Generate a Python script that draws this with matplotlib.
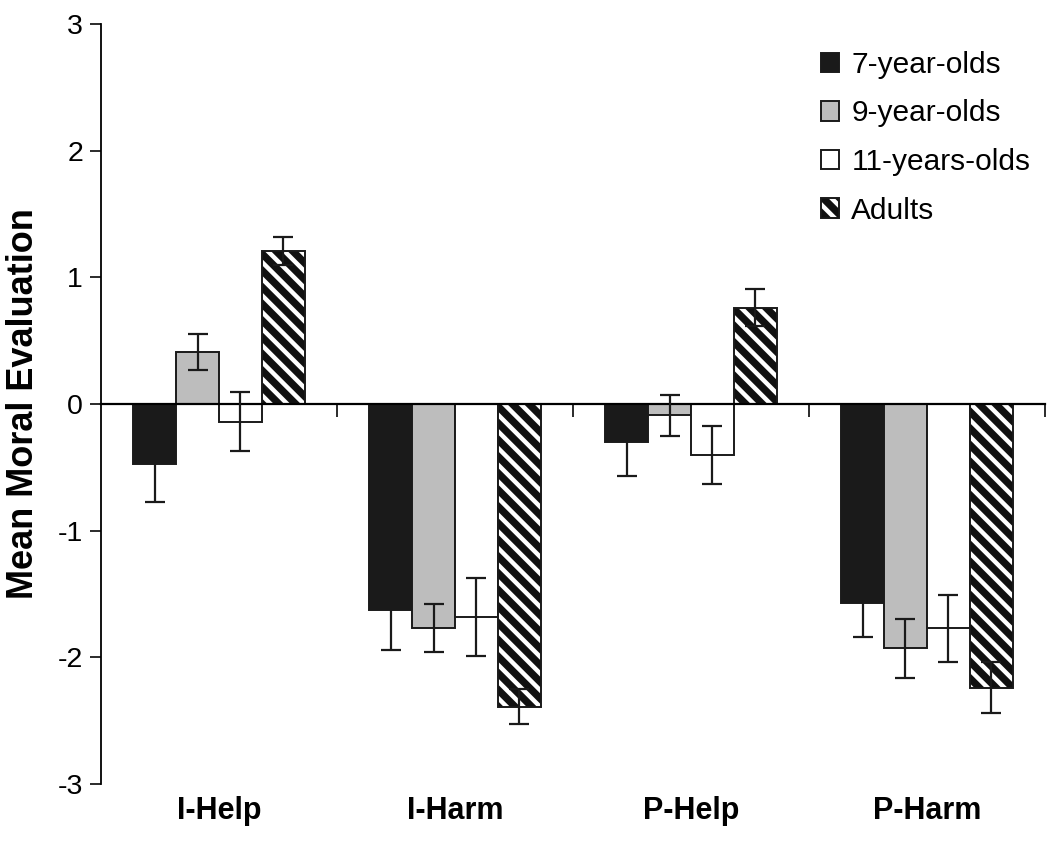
import matplotlib
matplotlib.use("Agg")
import matplotlib.pyplot as plt
from matplotlib.patches import Patch
from matplotlib.legend_handler import HandlerTuple
import numpy as np

categories = ["I-Help", "I-Harm", "P-Help", "P-Harm"]
groups = ["7-year-olds", "9-year-olds", "11-years-olds", "Adults"]
means_7 = [-0.47, -1.63, -0.30, -1.57]
means_9 = [0.41, -1.77, -0.09, -1.93]
means_11 = [-0.14, -1.68, -0.40, -1.77]
means_ad = [1.21, -2.39, 0.76, -2.24]
err_7 = [0.30, 0.31, 0.27, 0.27]
err_9 = [0.145, 0.19, 0.16, 0.235]
err_11 = [0.235, 0.31, 0.23, 0.265]
err_ad = [0.11, 0.14, 0.145, 0.20]
yticks = [-3, -2, -1, 0, 1, 2, 3]

plt.rcParams['font.family'] = ['Liberation Sans', 'DejaVu Sans']
plt.rcParams['hatch.linewidth'] = 3.2

fig = plt.figure(figsize=(10.5, 8.42), dpi=100)
ax = fig.add_axes([0.0962, 0.0689, 0.899, 0.9026])

x = np.arange(len(categories))
w = 0.182
offsets = [-1.5 * w, -0.5 * w, 0.5 * w, 1.5 * w]
means = [means_7, means_9, means_11, means_ad]
errs = [err_7, err_9, err_11, err_ad]
faces = ['#1a1a1a', '#bdbdbd', 'white', '#111111']

handles = []
for i in range(4):
    xs = x + offsets[i]
    if i < 3:
        ax.bar(xs, means[i], w, color=faces[i], edgecolor='#1a1a1a', linewidth=1.4, zorder=2)
        handles.append(Patch(facecolor=faces[i], edgecolor='#1a1a1a', linewidth=1.4))
    else:
        ax.bar(xs, means[i], w, color='#111111', edgecolor='white', hatch='\\\\', linewidth=0, zorder=2)
        ax.bar(xs, means[i], w, color='none', edgecolor='#1a1a1a', linewidth=1.4, zorder=2.1)
        h1 = Patch(facecolor='#111111', edgecolor='white', hatch='\\\\', linewidth=0)
        h2 = Patch(facecolor='none', edgecolor='#1a1a1a', linewidth=1.4)
        handles.append((h1, h2))
    ax.errorbar(xs, means[i], yerr=errs[i], fmt='none', ecolor='#1a1a1a', elinewidth=1.6,
                capsize=7, capthick=1.6, zorder=3)

ax.set_xlim(-0.5, 3.5)
ax.set_ylim(-3, 3)
ax.set_yticks(yticks)
ax.set_yticklabels([str(t) for t in yticks], fontsize=20.5)
ax.tick_params(axis='y', direction='out', length=8, width=1.3, pad=5, color='#1a1a1a')
ax.spines['top'].set_visible(False)
ax.spines['right'].set_visible(False)
ax.spines['left'].set_linewidth(1.3)
ax.spines['bottom'].set_position(('data', 0))
ax.spines['bottom'].set_linewidth(1.6)
ax.set_xticks(x + 0.5)
ax.set_xticklabels([])
ax.tick_params(axis='x', direction='out', length=9, width=1.3, color='#1a1a1a')

for xi, lab in zip(x, categories):
    ax.annotate(lab, xy=(xi, -3), xytext=(0, -9), textcoords='offset points',
                ha='center', va='top', fontsize=22, fontweight='bold')

ax.set_ylabel("Mean Moral Evaluation", fontsize=26, fontweight='bold', labelpad=12)

leg = ax.legend(handles, groups, loc='upper right', bbox_to_anchor=(1.013, 1.0), frameon=False,
                fontsize=21.5, handlelength=0.62, handleheight=0.62, handletextpad=0.4,
                labelspacing=0.69, handler_map={tuple: HandlerTuple(ndivide=1, pad=0)})

fig.savefig("out.png", dpi=100)
